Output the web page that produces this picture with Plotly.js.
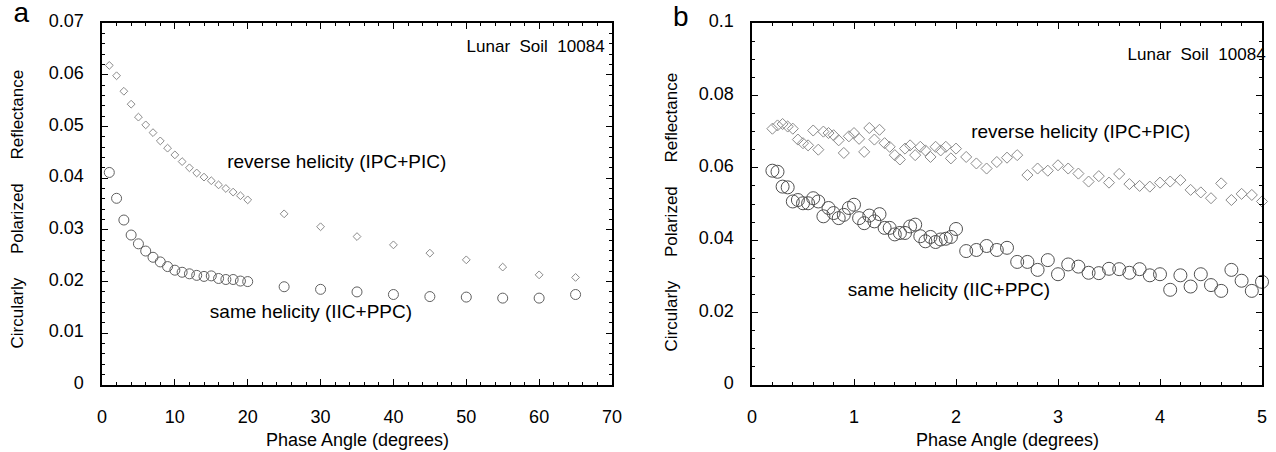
<!DOCTYPE html>
<html><head><meta charset="utf-8">
<script src="https://cdn.plot.ly/plotly-3.0.1.min.js"></script>
<style>
body{margin:0;background:#fff}#c{width:1276px;height:452px}
.modebar-container,.modebar{display:none !important;}
.js-plotly-plot .plotly text{font-family:'Liberation Sans',Arial,sans-serif !important; fill:#000 !important;}
.js-plotly-plot .plotly .xtick text,.js-plotly-plot .plotly .ytick text{font-size:18px !important;}
.js-plotly-plot .plotly .x2tick text,.js-plotly-plot .plotly .y2tick text{font-size:18px !important;}
.js-plotly-plot .plotly .annotation[data-index="0"] text,.js-plotly-plot .plotly .annotation[data-index="1"] text{font-size:28px !important;}
.js-plotly-plot .plotly .annotation[data-index="2"] text,.js-plotly-plot .plotly .annotation[data-index="3"] text{font-size:17px !important;}
.js-plotly-plot .plotly .annotation[data-index="4"] text,.js-plotly-plot .plotly .annotation[data-index="5"] text{font-size:18px !important;}
.js-plotly-plot .plotly .annotation[data-index="6"] text,.js-plotly-plot .plotly .annotation[data-index="9"] text{font-size:17px !important;}
.js-plotly-plot .plotly .annotation[data-index="7"] text,.js-plotly-plot .plotly .annotation[data-index="8"] text,
.js-plotly-plot .plotly .annotation[data-index="10"] text,.js-plotly-plot .plotly .annotation[data-index="11"] text{font-size:19px !important;}
</style>
</head><body><div id="c"></div>
<script>
// Panel a
const aRevX = [1,2,3,4,5,6,7,8,9,10,11,12,13,14,15,16,17,18,19,20,25,30,35,40,45,50,55,60,65];
const aRevY = [0.0618,0.0598,0.0568,0.0543,0.0518,0.0503,0.0488,0.0472,0.0458,0.0445,0.0432,0.0420,0.0410,0.0402,0.0395,0.0387,0.0380,0.0373,0.0366,0.0358,
               0.0331,0.0306,0.0287,0.0271,0.0255,0.0242,0.0228,0.0213,0.0208];
const aSameX = [1,2,3,4,5,6,7,8,9,10,11,12,13,14,15,16,17,18,19,20,25,30,35,40,45,50,55,60,65];
const aSameY = [0.0411,0.0361,0.0319,0.0290,0.0273,0.0259,0.0247,0.0238,0.0229,0.0222,0.0218,0.0215,0.0212,0.0210,0.0211,0.0206,0.0204,0.0204,0.0201,0.0200,
                0.0190,0.0185,0.0180,0.0175,0.0171,0.0170,0.0168,0.0168,0.0175];
// Panel b
const bX = [0.20,0.25,0.30,0.35,0.40,0.45,0.50,0.55,0.60,0.65,0.70,0.75,0.80,0.85,0.90,0.95,1.00,1.05,1.10,1.15,1.20,1.25,1.30,1.35,1.40,1.45,1.50,1.55,1.60,1.65,1.70,1.75,1.80,1.85,1.90,1.95,2.00,
            2.1,2.2,2.3,2.4,2.5,2.6,2.7,2.8,2.9,3.0,3.1,3.2,3.3,3.4,3.5,3.6,3.7,3.8,3.9,4.0,4.1,4.2,4.3,4.4,4.5,4.6,4.7,4.8,4.9,5.0];
const bRevY = [0.0708,0.0717,0.0721,0.0714,0.0708,0.0678,0.0668,0.0662,0.0703,0.0650,0.0700,0.0696,0.0690,0.0676,0.0641,0.0687,0.0696,0.0680,0.0644,0.0710,0.0678,0.0705,0.0668,0.0658,0.0635,0.0623,0.0653,0.0662,0.0635,0.0658,0.0648,0.0630,0.0658,0.0648,0.0658,0.0626,0.0653,
               0.0630,0.0612,0.0598,0.0616,0.0628,0.0635,0.0580,0.0598,0.0592,0.0607,0.0598,0.0584,0.0562,0.0577,0.0559,0.0583,0.0555,0.0550,0.0548,0.0559,0.0562,0.0566,0.0539,0.0532,0.0516,0.0557,0.0511,0.0528,0.0525,0.0507];
const bSameY = [0.0592,0.0589,0.0548,0.0546,0.0507,0.0511,0.0502,0.0502,0.0516,0.0507,0.0466,0.0489,0.0475,0.0461,0.0470,0.0489,0.0498,0.0461,0.0447,0.0468,0.0452,0.0472,0.0434,0.0434,0.0416,0.0420,0.0420,0.0438,0.0443,0.0411,0.0397,0.0409,0.0395,0.0402,0.0404,0.0409,0.0431,
                0.0370,0.0373,0.0384,0.0373,0.0379,0.0340,0.0340,0.0318,0.0345,0.0306,0.0333,0.0327,0.0310,0.0309,0.0321,0.0320,0.0310,0.0320,0.0303,0.0306,0.0263,0.0303,0.0272,0.0306,0.0276,0.0260,0.0318,0.0288,0.0260,0.0285];

const NB = '\u00a0';
const GAP = NB+NB+NB+NB+NB;
const yTitle = 'Circularly'+GAP+'Polarized'+GAP+'Reflectance';
const xTitle = 'Phase Angle (degrees)';
const soil = 'Lunar'+NB+' Soil'+NB+' 10084';
const revLbl = 'reverse helicity (IPC+PIC)';
const sameLbl = 'same helicity (IIC+PPC)';

const traces = [
  {x:aRevX, y:aRevY, xaxis:'x', yaxis:'y', mode:'markers', type:'scatter', cliponaxis:false, hoverinfo:'skip',
   marker:{symbol:'diamond-open', size:6, color:'#8a8a8a', line:{width:1}}},
  {x:aSameX, y:aSameY, xaxis:'x', yaxis:'y', mode:'markers', type:'scatter', cliponaxis:false, hoverinfo:'skip',
   marker:{symbol:'circle-open', size:10, color:'#606060', line:{width:1}}},
  {x:bX, y:bRevY, xaxis:'x2', yaxis:'y2', mode:'markers', type:'scatter', cliponaxis:false, hoverinfo:'skip',
   marker:{symbol:'diamond-open', size:8.5, color:'#8a8a8a', line:{width:1}}},
  {x:bX, y:bSameY, xaxis:'x2', yaxis:'y2', mode:'markers', type:'scatter', cliponaxis:false, hoverinfo:'skip',
   marker:{symbol:'circle-open', size:13, color:'#505050', line:{width:1}}}
];

function ax(extra){
  return Object.assign({
    showline:true, linecolor:'#000', linewidth:1.5, mirror:'ticks',
    ticks:'inside', ticklen:6, tickwidth:1, tickcolor:'#000',
    showgrid:false, zeroline:false, tickmode:'linear', tick0:0
  }, extra);
}
const ydom = [67/452, 429/452];
const P = (x, y, text, extra) => Object.assign({text:text, xref:'paper', yref:'paper', x:x/1276, y:1-y/452,
  showarrow:false, xanchor:'center', yanchor:'middle'}, extra||{});
const D = (xr, yr, x, y, text, xanchor) => ({text:text, xref:xr, yref:yr, x:x, y:y, showarrow:false, xanchor:xanchor, yanchor:'middle'});
const layout = {
  width:1276, height:452, showlegend:false,
  margin:{l:0,r:0,t:0,b:0},
  xaxis: ax({domain:[102/1276, 612/1276], range:[0,70], dtick:10, ticklabelstandoff:22,
             minor:{dtick:2, ticks:'inside', ticklen:3, tickwidth:1, tickcolor:'#000'}, anchor:'y'}),
  yaxis: ax({domain:ydom, range:[0,0.07], dtick:0.01, ticklabelstandoff:14,
             minor:{dtick:0.002, ticks:'inside', ticklen:3, tickwidth:1, tickcolor:'#000'}, anchor:'x'}),
  xaxis2: ax({domain:[752/1276, 1262/1276], range:[0,5], dtick:1, ticklabelstandoff:22,
             minor:{dtick:0.2, ticks:'inside', ticklen:3, tickwidth:1, tickcolor:'#000'}, anchor:'y2'}),
  yaxis2: ax({domain:ydom, range:[0,0.1], dtick:0.02, ticklabelstandoff:14,
             minor:{dtick:0.005, ticks:'inside', ticklen:3, tickwidth:1, tickcolor:'#000'}, anchor:'x2'}),
  annotations:[
    P(21, 17, 'a'),
    P(680, 21, 'b'),
    P(18, 209, yTitle, {textangle:-90}),
    P(672, 212, yTitle, {textangle:-90}),
    P(357, 441, xTitle),
    P(1007, 441, xTitle),
    D('x','y', 66.5, 0.0652, soil, 'right'),
    D('x','y', 32.2, 0.0429, revLbl, 'center'),
    D('x','y', 28.7, 0.0139, sameLbl, 'center'),
    D('x2','y2', 4.863, 0.0909, soil, 'right'),
    D('x2','y2', 3.225, 0.0695, revLbl, 'center'),
    D('x2','y2', 1.93, 0.0258, sameLbl, 'center')
  ]
};
Plotly.newPlot('c', traces, layout);
</script></body></html>
